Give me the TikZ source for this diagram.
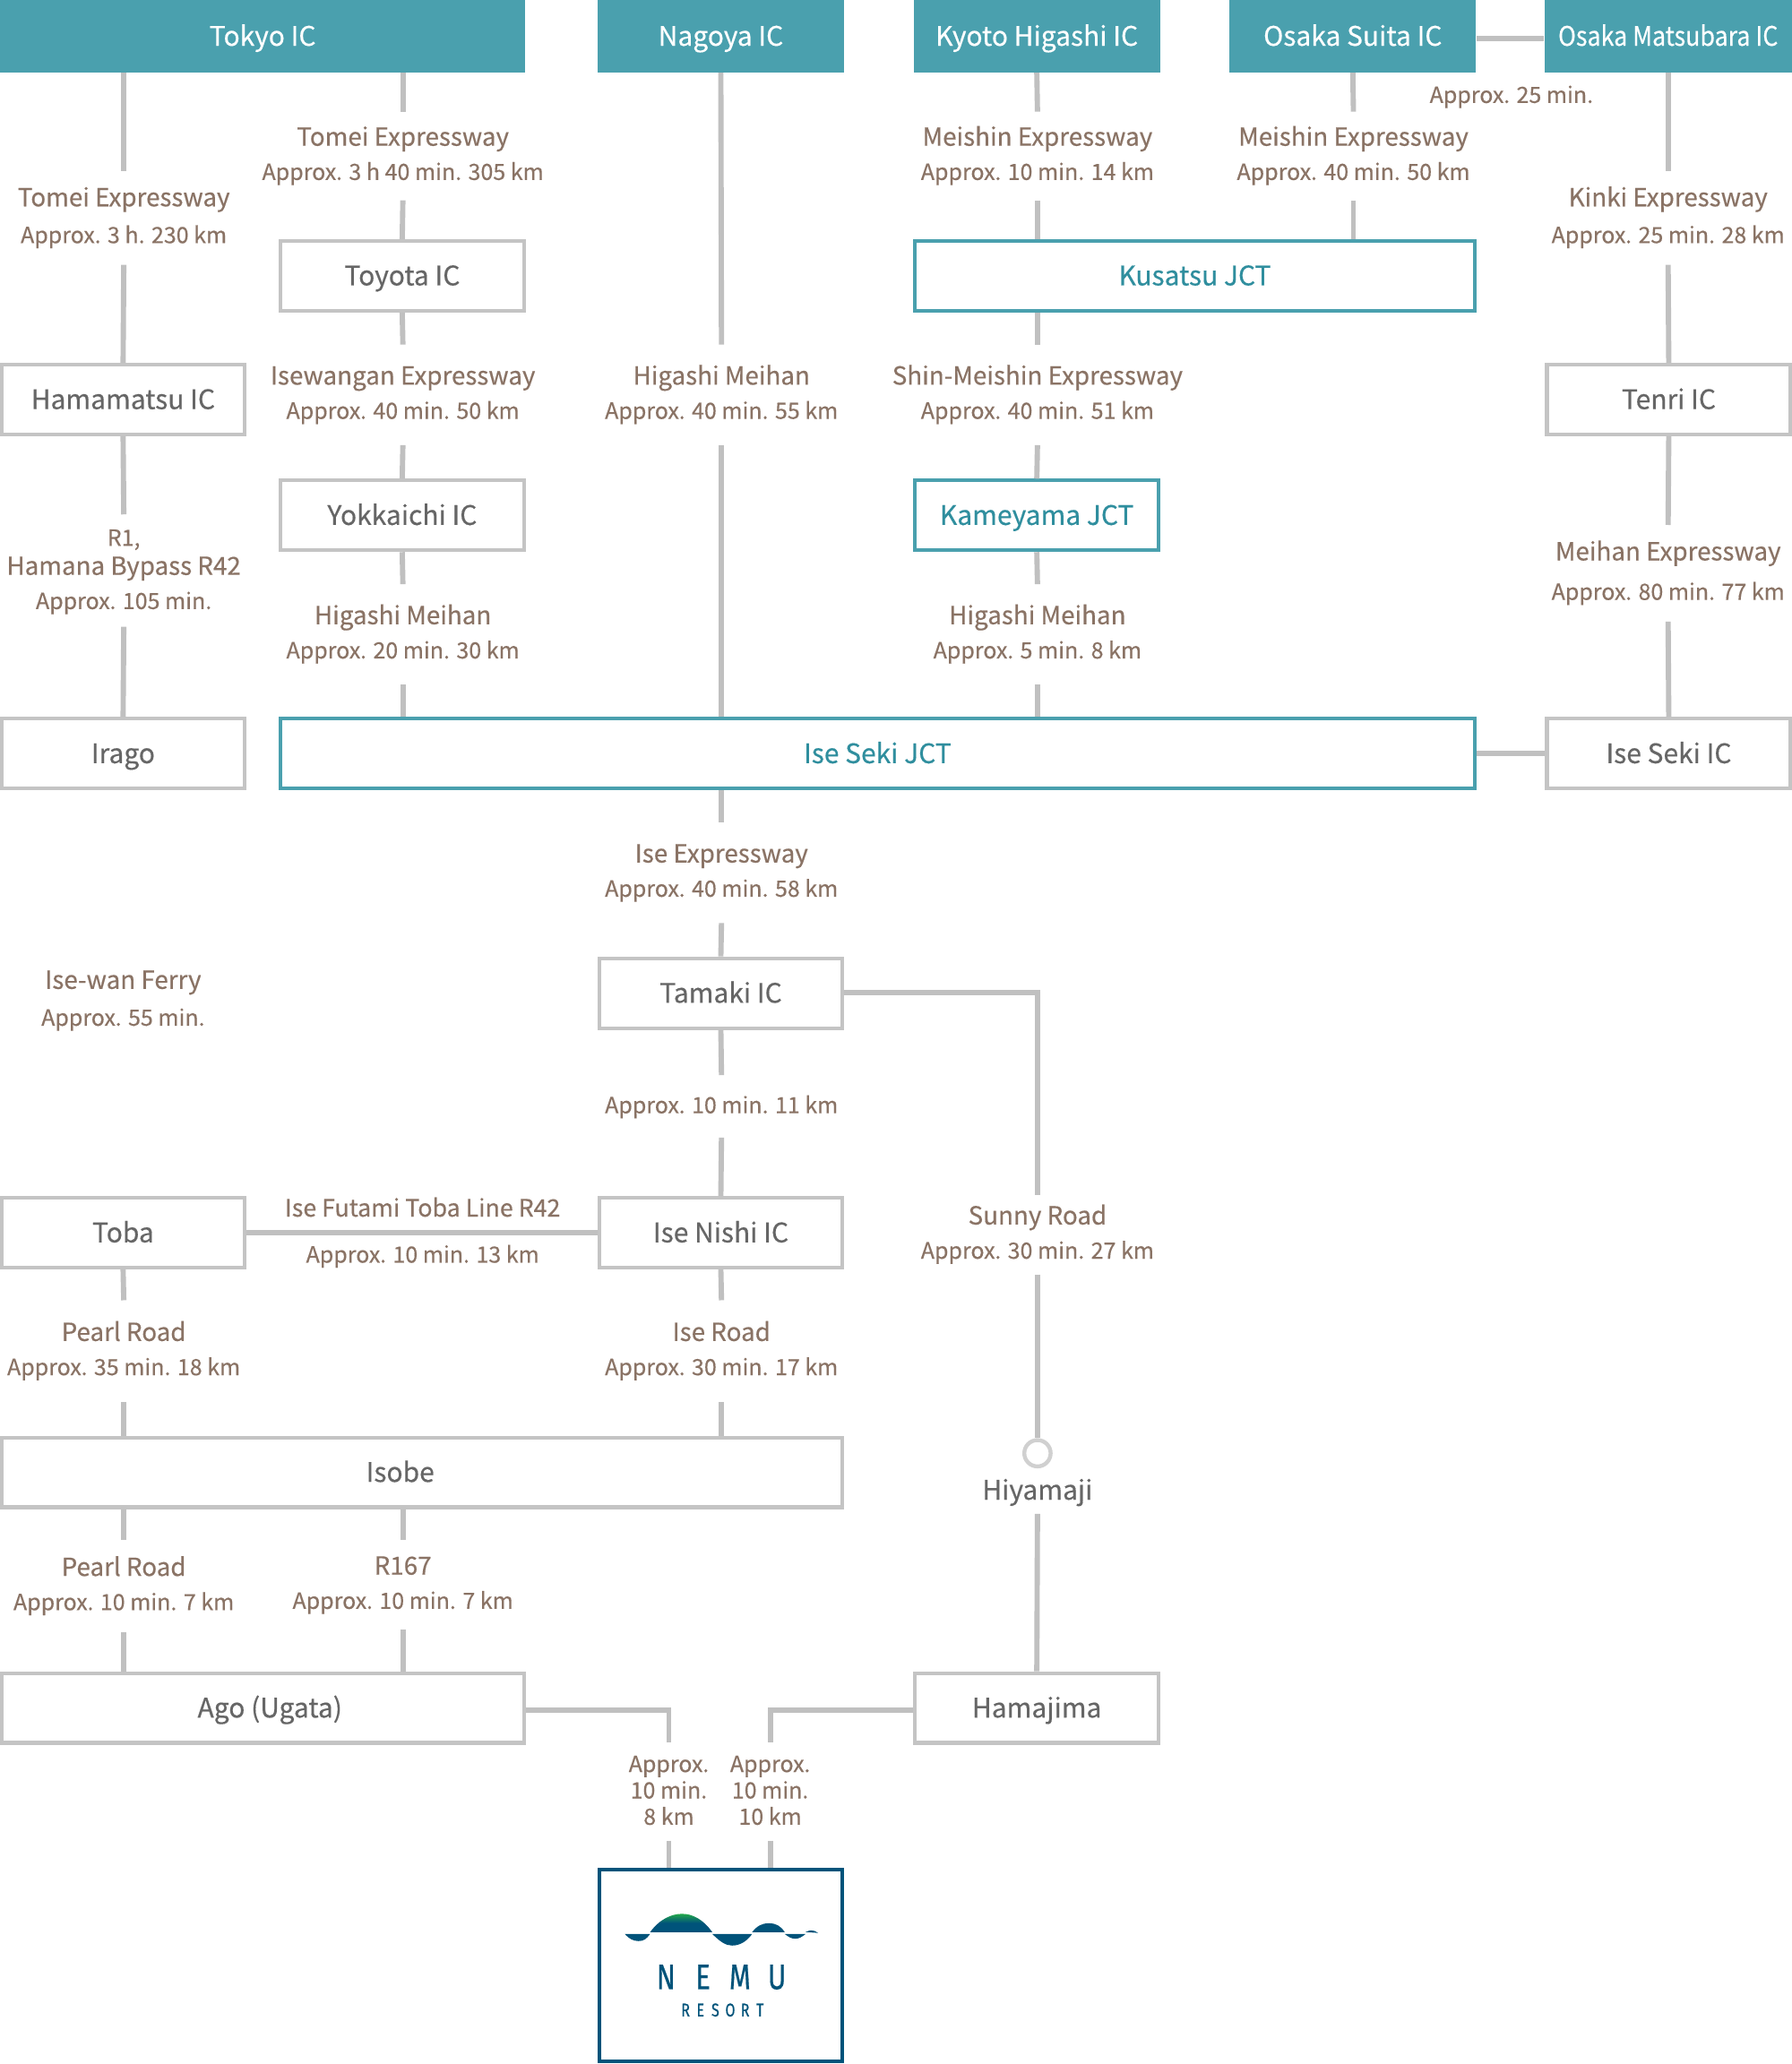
\documentclass[tikz,border=0pt]{standalone}
\usepackage{fontspec}
\setmainfont[FakeBold=0.4]{Noto Sans CJK JP}
\newfontfamily\logof[FakeBold=0.6]{Fira Sans}
\usetikzlibrary{calc}
\definecolor{hdc}{HTML}{4AA0AE}
\definecolor{tealt}{HTML}{2F8E9E}
\definecolor{linec}{HTML}{C0C0C0}
\definecolor{boxc}{HTML}{C4C4C4}
\definecolor{labc}{HTML}{8A7365}
\definecolor{boxt}{HTML}{666666}
\definecolor{nemu}{HTML}{00537A}
\definecolor{nemug}{HTML}{22A84A}
\newcommand{\ttl}[1]{{\fontsize{18.9}{26}\selectfont #1}}
\newcommand{\lab}[5]{\node[labx,minimum height=#4-#3] (#1) at (#2,{(#3+#4)/2}) {\strut #5\strut};}
\newcommand{\bx}[7][boxs]{\node[#1,minimum width=#4-#3,minimum height=#6-#5] (#2) at ({(#3+#4)/2},{(#5+#6)/2}) {#7};}
\begin{document}
\begin{tikzpicture}[x=1pt,y=-1pt,
 conn/.style={draw=linec,line width=4pt},
 labx/.style={inner sep=0pt,text=labc,align=center,font=\fontsize{17}{26}\selectfont},
 boxs/.style={draw=boxc,line width=2.8pt,fill=white,text=boxt,inner sep=0pt,text height=16pt,text depth=1.5pt,font=\fontsize{20.4}{24}\selectfont},
 tealbox/.style={boxs,draw=hdc,text=tealt},
 hd/.style={fill=hdc,text=white,inner sep=0pt,text height=16pt,text depth=1.5pt,font=\fontsize{20.4}{24}\selectfont},
 free/.style={text=boxt,inner sep=0pt,text height=16pt,text depth=1.5pt,font=\fontsize{20.4}{24}\selectfont},
]
\useasboundingbox (0,0) rectangle (1361,1568);
% headers
\bx[hd]{tokyo}{0}{399}{0}{55}{Tokyo IC}
\bx[hd]{nagoya}{454}{641}{0}{55}{Nagoya IC}
\bx[hd]{kyoto}{694}{881}{0}{55}{Kyoto Higashi IC}
\bx[hd]{suita}{934}{1121}{0}{55}{Osaka Suita IC}
\bx[hd]{matsu}{1173}{1361}{0}{55}{\scalebox{0.895}[1]{Osaka Matsubara IC}}
% boxes
\bx{toyota}{213}{398}{183}{236}{Toyota IC}
\bx{hama}{1}{186}{277}{330}{Hamamatsu IC}
\bx{yokk}{213}{398}{365}{418}{Yokkaichi IC}
\bx[tealbox]{kusa}{695}{1120}{183}{236}{Kusatsu JCT}
\bx{tenri}{1175}{1360}{277}{330}{Tenri IC}
\bx[tealbox]{kame}{695}{880}{365}{418}{Kameyama JCT}
\bx{irago}{1}{186}{546}{599}{Irago}
\bx[tealbox]{jct}{213}{1120}{546}{599}{Ise Seki JCT}
\bx{iseic}{1175}{1360}{546}{599}{Ise Seki IC}
\bx{tamaki}{455}{640}{728}{781}{Tamaki IC}
\bx{toba}{1}{186}{910}{963}{Toba}
\bx{nishi}{455}{640}{910}{963}{Ise Nishi IC}
\bx{isobe}{1}{640}{1092}{1145}{}
\node[free] (isobet) at (304,1118.5) {Isobe};
\bx{ago}{1}{398}{1271}{1324}{}
\node[free] (agot) at (205,1297.5) {Ago (Ugata)};
\bx{hamaj}{695}{880}{1271}{1324}{Hamajima}
% labels
\lab{l1}{94}{130}{201}{\ttl{Tomei Expressway}\\[2pt]Approx. 3 h. 230 km}
\lab{l2}{94}{391}{476}{R1,\\[-4pt]\ttl{Hamana Bypass R42}\\Approx. 105 min.}
\lab{l3}{306}{85}{152}{\ttl{Tomei Expressway}\\Approx. 3 h 40 min. 305 km}
\lab{l4}{306}{262}{338}{\ttl{Isewangan Expressway}\\Approx. 40 min. 50 km}
\lab{l5}{306}{444}{520}{\ttl{Higashi Meihan}\\Approx. 20 min. 30 km}
\lab{l6}{548}{262}{338}{\ttl{Higashi Meihan}\\Approx. 40 min. 55 km}
\lab{l7}{548}{625}{701}{\ttl{Ise Expressway}\\Approx. 40 min. 58 km}
\lab{l8}{548}{817}{864}{Approx. 10 min. 11 km}
\lab{l9}{548}{988}{1065}{\ttl{Ise Road}\\Approx. 30 min. 17 km}
\lab{l10}{788}{85}{152}{\ttl{Meishin Expressway}\\Approx. 10 min. 14 km}
\lab{l11}{788}{262}{338}{\ttl{Shin-Meishin Expressway}\\Approx. 40 min. 51 km}
\lab{l12}{788}{444}{520}{\ttl{Higashi Meihan}\\Approx. 5 min. 8 km}
\lab{l13}{1028}{85}{152}{\ttl{Meishin Expressway}\\Approx. 40 min. 50 km}
\lab{l14}{1267}{130}{201}{\ttl{Kinki Expressway}\\[2pt]Approx. 25 min. 28 km}
\lab{l15}{1267}{399}{472}{\ttl{Meihan Expressway}\\[4pt]Approx. 80 min. 77 km}
\lab{l16}{94}{988}{1065}{\ttl{Pearl Road}\\Approx. 35 min. 18 km}
\lab{l17}{94}{1170}{1240}{\ttl{Pearl Road}\\Approx. 10 min. 7 km}
\lab{l18}{306}{1170}{1238}{\ttl{R167}\\Approx. 10 min. 7 km}
\lab{l19}{788}{908}{968}{\ttl{Sunny Road}\\Approx. 30 min. 27 km}
\lab{l20}{508}{1324}{1398}{}
\lab{l21}{585}{1324}{1398}{}
\node[labx] (l20t) at (508,1361) {\strut Approx.\\[-6pt]10 min.\\[-6pt]8 km\strut};
\node[labx] (l21t) at (585,1361) {\strut Approx.\\[-6pt]10 min.\\[-6pt]10 km\strut};
\node[labx] (l22) at (1148,73) {\strut Approx. 25 min.\strut};
\node[labx] (l23) at (93.5,760) {\strut\ttl{Ise-wan Ferry}\\[2pt]Approx. 55 min.\strut};
\node[labx,font=\fontsize{18.2}{26}\selectfont] (l24) at (321,919) {\strut Ise Futami Toba Line R42\strut};
\node[labx] (l25) at (321,954) {\strut Approx. 10 min. 13 km\strut};
% hiyamaji
\node[circle,draw=boxc!80,line width=3pt,minimum size=20pt,inner sep=0pt,fill=white] (hc) at (788,1104) {};
\node[free] (hiya) at (788,1132) {Hiyamaji};
\coordinate (hb) at (788,1150);
% corner and end points
\coordinate (t1) at (788,754);
\coordinate (a1) at (508,1299);
\coordinate (h1) at (585,1299);
% nemu box
\bx[boxs,draw=nemu]{resort}{455}{640}{1420}{1566}{}
% connectors
\draw[conn] (tokyo.south -| l1.north) -- (l1.north);
\draw[conn] (l1.south) -- (hama.north);
\draw[conn] (hama.south) -- (l2.north);
\draw[conn] (l2.south) -- (irago.north);
\draw[conn] (tokyo.south -| l3.north) -- (l3.north);
\draw[conn] (l3.south) -- (toyota.north);
\draw[conn] (toyota.south) -- (l4.north);
\draw[conn] (l4.south) -- (yokk.north);
\draw[conn] (yokk.south) -- (l5.north);
\draw[conn] (l5.south) -- (l5.south |- jct.north);
\draw[conn] (nagoya.south) -- (l6.north);
\draw[conn] (l6.south) -- (l6.south |- jct.north);
\draw[conn] (l7.north |- jct.south) -- (l7.north);
\draw[conn] (l7.south) -- (tamaki.north);
\draw[conn] (tamaki.south) -- (l8.north);
\draw[conn] (l8.south) -- (nishi.north);
\draw[conn] (nishi.south) -- (l9.north);
\draw[conn] (l9.south) -- (l9.south |- isobe.north);
\draw[conn] (kyoto.south) -- (l10.north);
\draw[conn] (l10.south) -- (l10.south |- kusa.north);
\draw[conn] (l11.north |- kusa.south) -- (l11.north);
\draw[conn] (l11.south) -- (kame.north);
\draw[conn] (kame.south) -- (l12.north);
\draw[conn] (l12.south) -- (l12.south |- jct.north);
\draw[conn] (suita.south) -- (l13.north);
\draw[conn] (l13.south) -- (l13.south |- kusa.north);
\draw[conn] (matsu.south -| l14.north) -- (l14.north);
\draw[conn] (l14.south) -- (tenri.north);
\draw[conn] (tenri.south) -- (l15.north);
\draw[conn] (l15.south) -- (iseic.north);
\draw[conn] ($(suita.east)+(0,2)$) -- ($(matsu.west)+(0,2)$);
\draw[conn] (jct.east) -- (iseic.west);
\draw[conn] (toba.east) -- (nishi.west);
\draw[conn] (toba.south) -- (l16.north);
\draw[conn] (l16.south) -- (l16.south |- isobe.north);
\draw[conn] (l17.north |- isobe.south) -- (l17.north);
\draw[conn] (l17.south) -- (l17.south |- ago.north);
\draw[conn] (l18.north |- isobe.south) -- (l18.north);
\draw[conn] (l18.south) -- (l18.south |- ago.north);
\draw[conn] (tamaki.east |- t1) -- (t1) -- (l19.north);
\draw[conn] (l19.south) -- (hc.north);
\draw[conn] (hb) -- (hamaj.north);
\draw[conn] (ago.east |- a1) -- (a1) -- (l20.north);
\draw[conn] (l20.south) -- (l20.south |- resort.north);
\draw[conn] (hamaj.west |- h1) -- (h1) -- (l21.north);
\draw[conn] (l21.south) -- (l21.south |- resort.north);
% logo
\shade[top color=nemug,bottom color=nemu,middle color=nemu,shading angle=0] (493.8,1467.8) .. controls (501,1458) and (510,1453.9) .. (518,1453.9) .. controls (526,1453.9) and (534,1458) .. (541,1467.8) -- cycle;
\fill[nemu] (474.6,1469.2) .. controls (478,1473) and (481,1474.6) .. (485,1474.6) .. controls (489,1474.6) and (491,1473) .. (493.8,1469.2) -- cycle;
\fill[nemu] (541,1469.2) .. controls (547,1475) and (551,1478) .. (556,1478) .. controls (562,1478) and (567,1475) .. (571.3,1469.2) -- cycle;
\fill[nemu] (571.3,1467.8) .. controls (575,1463) and (579,1461) .. (584,1461) .. controls (589,1461) and (593,1463) .. (596,1467.8) -- cycle;
\fill[nemu] (596,1469.2) .. controls (599,1471.5) and (601,1472.8) .. (604,1472.8) .. controls (607,1472.8) and (609,1471.5) .. (611.9,1469.2) -- cycle;
\fill[nemu] (611.9,1467.8) .. controls (614,1466.8) and (615,1466.5) .. (616,1466.5) .. controls (618,1466.5) and (619.5,1467) .. (621.4,1468.4) -- cycle;
\node[text=nemu,inner sep=0pt,font={\logof\fontsize{27}{27}\selectfont}] (nemut) at (548,1502) {\scalebox{0.78}[1]{\makebox[36pt]{N}\makebox[36pt]{E}\makebox[36pt]{M}\makebox[36pt]{U}}};
\node[text=nemu,inner sep=0pt,font={\logof\fontsize{14}{14}\selectfont}] (rest) at (549,1527) {\scalebox{0.78}[1]{\makebox[14.5pt]{R}\makebox[14.5pt]{E}\makebox[14.5pt]{S}\makebox[14.5pt]{O}\makebox[14.5pt]{R}\makebox[14.5pt]{T}}};
\end{tikzpicture}
\end{document}
